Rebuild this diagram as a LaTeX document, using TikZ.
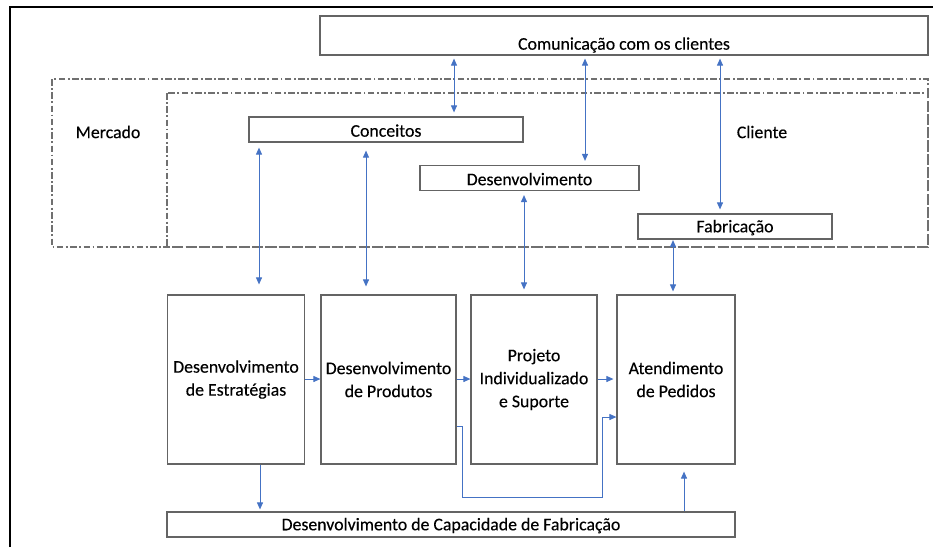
\documentclass[tikz,border=0pt]{standalone}
\usepackage{fontspec}
\setmainfont[FakeBold=0.25]{Carlito}
\usetikzlibrary{arrows.meta}
\definecolor{boxgray}{RGB}{100,100,100}
\definecolor{dashgray}{RGB}{112,112,112}
\definecolor{arrowblue}{RGB}{68,114,196}
\begin{document}
\begin{tikzpicture}[x=1pt,y=-1pt,
  >={Triangle[length=7pt,width=6pt]},
  every node/.style={font=\fontsize{17.8}{23}\selectfont,text=black},
  box/.style={draw=boxgray,line width=1.2pt,inner sep=0pt,fill=white,align=center,
    execute at begin node={\rule{0pt}{14.5pt}}},
  zone/.style={draw=dashgray,line width=1.2pt,dash pattern=on 6.5pt off 2.5pt on 1.8pt off 2.5pt},
  link/.style={draw=arrowblue,line width=0.9pt}]
\useasboundingbox (0,0) rectangle (933,547);
\fill[white] (0,0) rectangle (933,547);
\draw[black,line width=2pt] (10,547) -- (10,7) -- (933,7);
% zones
\draw[zone] (52,79) rectangle (928,247);
\draw[zone] (167,93) rectangle (928,247);
% top boxes
\node[box,minimum width=608pt,minimum height=39pt] (com) at (624,35.5) {};
\node (comtxt) at (624,45) {Comunicação com os clientes};
\node[box,minimum width=274pt,minimum height=25pt] (con) at (386,129.5) {Conceitos};
\node[box,minimum width=219pt,minimum height=25pt] (des) at (529.5,178) {Desenvolvimento};
\node[box,minimum width=194pt,minimum height=25pt] (fab) at (735,226.5) {Fabricação};
\node (mer) at (108,132) {Mercado};
\node (cli) at (762,132) {Cliente};
% lower boxes
\node[box,minimum width=137pt,minimum height=169pt] (est) at (236,379.5) {Desenvolvimento\\de Estratégias};
\node[box,minimum width=135pt,minimum height=169pt] (prod) at (388.5,379.5) {Desenvolvimento\\de Produtos};
\node[box,minimum width=126pt,minimum height=169pt] (proj) at (534,379.5) {Projeto\\Individualizado\\e Suporte};
\node[box,minimum width=118pt,minimum height=169pt] (ate) at (676,379.5) {Atendimento\\de Pedidos};
\node[box,minimum width=568pt,minimum height=25pt] (cap) at (451,524.5) {Desenvolvimento de Capacidade de Fabricação};
% vertical arrows
\draw[link,<->,shorten <=3pt,shorten >=4pt] (com.south -| 454,0) -- (con.north -| 454,0);
\draw[link,<->,shorten <=3pt,shorten >=4pt] (com.south -| 585,0) -- (des.north -| 585,0);
\draw[link,<->,shorten <=3pt,shorten >=4pt] (com.south -| 720,0) -- (fab.north -| 720,0);
\draw[link,<->,shorten <=5pt,shorten >=10pt] (con.south -| 259,0) -- (est.north -| 259,0);
\draw[link,<->,shorten <=8pt,shorten >=8pt] (con.south -| 366,0) -- (prod.north -| 366,0);
\draw[link,<->,shorten <=4pt,shorten >=5pt] (des.south -| 524,0) -- (proj.north -| 524,0);
\draw[link,<->,shorten <=0.5pt,shorten >=3pt] (fab.south -| 673,0) -- (ate.north -| 673,0);
% horizontal arrows
\draw[link,->] (est.east |- 0,379) -- (prod.west |- 0,379);
\draw[link,->] (prod.east |- 0,379) -- (proj.west |- 0,379);
\draw[link,->,shorten >=3pt] (proj.east |- 0,379) -- (ate.west |- 0,379);
\draw[link,->] (prod.east |- 0,426) -- (462,426) -- (462,497) -- (602,497) -- (602,417) -- (ate.west |- 0,417);
% bottom arrows
\draw[link,->,shorten >=2pt] (est.south -| 260,0) -- (cap.north -| 260,0);
\draw[link,->,shorten >=7pt] (cap.north -| 684,0) -- (ate.south -| 684,0);
\end{tikzpicture}
\end{document}
